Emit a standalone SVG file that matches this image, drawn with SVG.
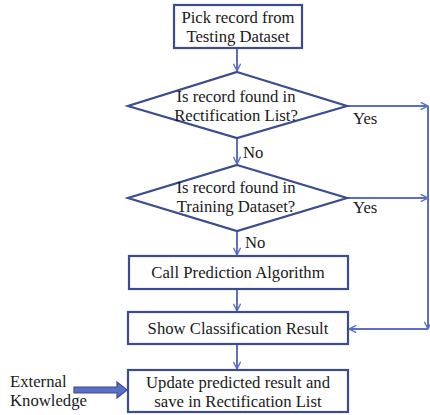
<svg xmlns="http://www.w3.org/2000/svg" width="430" height="415" viewBox="0 0 430 415">
<style>
.box{fill:#fff;stroke:#3d4b8f;stroke-width:2.2}
.con{fill:none;stroke:#5b6fc9;stroke-width:2}
text{font-family:"Liberation Serif","DejaVu Serif",serif;font-size:16.7px;fill:#1a1a1a;text-anchor:middle}
.lbl{text-anchor:start}
</style>
<defs>
<marker id="ah" viewBox="0 0 10 10" refX="9" refY="5" markerWidth="9" markerHeight="9" markerUnits="userSpaceOnUse" orient="auto">
<path d="M1,1 L9,5 L1,9" fill="none" stroke="#5b6fc9" stroke-width="1.6"/>
</marker>
</defs>
<rect width="430" height="415" fill="#fff"/>
<g id="connectors">
<line class="con" x1="237" y1="48" x2="237" y2="71" marker-end="url(#ah)"/>
<line class="con" x1="237" y1="138" x2="237" y2="164" marker-end="url(#ah)"/>
<line class="con" x1="237" y1="231" x2="237" y2="255" marker-end="url(#ah)"/>
<line class="con" x1="237" y1="289" x2="237" y2="311" marker-end="url(#ah)"/>
<line class="con" x1="237" y1="344" x2="237" y2="369" marker-end="url(#ah)"/>
<line class="con" x1="347" y1="106" x2="428" y2="106" marker-end="url(#ah)"/>
<line class="con" x1="347" y1="198" x2="428" y2="198" marker-end="url(#ah)"/>
<line class="con" x1="428" y1="106" x2="428" y2="329" marker-end="url(#ah)"/>
<line class="con" x1="428" y1="329" x2="349" y2="329" marker-end="url(#ah)"/>
<text class="lbl" x="243" y="158">No</text>
<text class="lbl" x="245" y="248">No</text>
<text class="lbl" x="353" y="124">Yes</text>
<text class="lbl" x="353" y="213">Yes</text>
</g>
<g id="n1">
<rect class="box" x="174" y="5" width="128" height="43"/>
<text x="238" y="23">Pick record from</text>
<text x="238" y="42">Testing Dataset</text>
</g>
<g id="d1">
<polygon class="box" points="237,72 347,106 237,138 128,106"/>
<text x="236" y="102">Is record found in</text>
<text x="236" y="121">Rectification List?</text>
</g>
<g id="d2">
<polygon class="box" points="237,165 347,198 237,231 128,198"/>
<text x="236" y="193">Is record found in</text>
<text x="236" y="212">Training Dataset?</text>
</g>
<g id="n2">
<rect class="box" x="129" y="256" width="219" height="33"/>
<text x="238" y="278">Call Prediction Algorithm</text>
</g>
<g id="n3">
<rect class="box" x="128" y="312" width="220" height="32"/>
<text x="238" y="334">Show  Classification Result</text>
</g>
<g id="n4">
<rect class="box" x="128" y="370" width="220" height="42"/>
<text x="238" y="388">Update predicted result and</text>
<text x="238" y="407">save in Rectification List</text>
</g>
<g id="ext">
<text class="lbl" x="10" y="387">External</text>
<text class="lbl" x="10" y="406">Knowledge</text>
<polygon points="74,387 117,387 117,382 127,390 117,398 117,393 74,393" fill="#5b6fc9" stroke="#3d4b8f" stroke-width="1.2"/>
</g>
</svg>
